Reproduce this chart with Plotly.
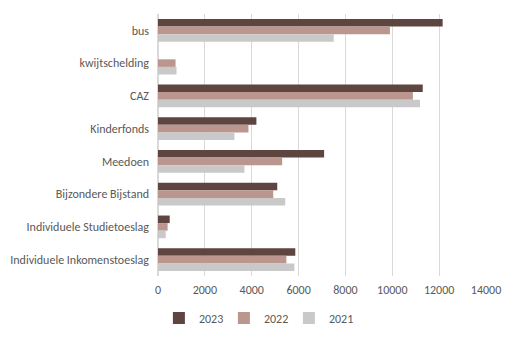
import plotly.graph_objects as go

categories = ["bus", "kwijtschelding", "CAZ", "Kinderfonds", "Meedoen",
              "Bijzondere Bijstand", "Individuele Studietoeslag",
              "Individuele Inkomenstoeslag"]
v2023 = [12150, 0, 11300, 4200, 7090, 5090, 500, 5860]
v2022 = [9900, 750, 10880, 3860, 5300, 4920, 410, 5480]
v2021 = [7500, 790, 11180, 3260, 3690, 5430, 330, 5820]
years = ["2023", "2022", "2021"]
colors = ["#5E4540", "#BA968F", "#C9C9C9"]

font_family = "Carlito, Liberation Sans Narrow, Liberation Sans, sans-serif"

fig = go.Figure()
for name, vals, col in zip(years, [v2023, v2022, v2021], colors):
    fig.add_trace(go.Bar(y=categories, x=vals, name=name, orientation="h",
                         marker=dict(color=col, line=dict(width=0))))

fig.update_layout(
    width=516, height=337,
    margin=dict(l=158, r=30, t=14, b=61, autoexpand=False),
    paper_bgcolor="white", plot_bgcolor="white",
    barmode="group", bargap=0.307, bargroupgap=0,
    font=dict(family=font_family, size=12, color="#595959"),
    xaxis=dict(range=[0, 14000], dtick=2000, tickformat="d", showgrid=True,
               gridcolor="#D9D9D9", gridwidth=1, zeroline=True,
               zerolinecolor="#D9D9D9", showline=False, ticks="",
               ticklabelstandoff=5, tickfont=dict(size=12, color="#595959")),
    yaxis=dict(autorange="reversed", showgrid=False, showline=False, ticks="",
               ticklabelstandoff=8, tickfont=dict(size=12, color="#595959")),
    legend=dict(orientation="h", x=0.3, xanchor="center", y=-0.16, yanchor="middle",
                itemwidth=30, entrywidth=20, entrywidthmode="pixels",
                font=dict(size=12, color="#595959"), traceorder="normal"),
    showlegend=True,
)

fig.write_html("out.html")
